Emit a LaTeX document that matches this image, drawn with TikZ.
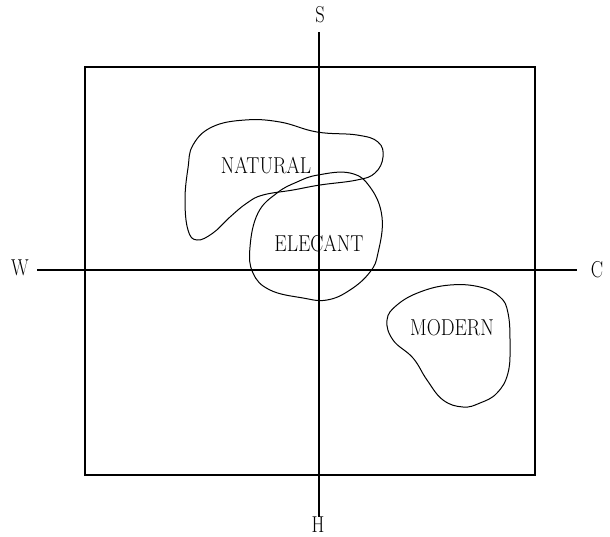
\documentclass[tikz,border=0pt]{standalone}
\begin{document}
\begin{tikzpicture}[x=1pt,y=-1pt,
  lbl/.style={inner sep=0pt,font=\fontsize{23}{23}\selectfont},
  axis/.style={line width=1.5pt},
  frame/.style={line width=1.1pt},
  blob/.style={line width=1pt,smooth cycle,tension=0.7}]
\useasboundingbox (0,0) rectangle (610,536);
% frame
\draw[frame] (85,67) rectangle (535,475);
% axes end points
\coordinate (wl) at (37,270);
\coordinate (cr) at (577,270);
\coordinate (st) at (319,32);
\coordinate (hb) at (319,517);
\draw[axis] (wl) -- (cr);
\draw[axis] (st) -- (hb);
% axis labels
\node[lbl] (S) at (320,15) {\scalebox{0.8}[1]{S}};
\node[lbl] (W) at (20,268) {\scalebox{0.8}[1]{W}};
\node[lbl] (C) at (597,270) {\scalebox{0.8}[1]{C}};
\node[lbl] (H) at (318,525) {\scalebox{0.8}[1]{H}};
% NATURAL blob
\draw[blob] plot coordinates {(193,145) (212,127) (245,120) (280,122) (317,132) (357,135) (378,142) (383,157) (375,173) (357,180) (320,185) (293,190) (263,195) (247,203) (230,217) (213,233) (197,240) (188,230) (185,200) (188,168)};
% ELECANT blob
\draw[blob] plot coordinates {(318,175) (350,173) (370,187) (382,217) (378,253) (370,272) (350,290) (327,300) (303,298) (270,290) (253,273) (250,247) (258,213) (277,193) (297,182)};
% MODERN blob
\draw[blob] plot coordinates {(387,320) (397,305) (420,292) (450,285) (480,287) (500,297) (508,313) (510,343) (508,373) (497,393) (480,403) (463,407) (443,400) (427,380) (413,358) (393,340)};
% labels
\node[lbl] (nat) at (266,166) {\scalebox{0.85}[1]{NATURAL}};
\node[lbl] (ele) at (319,244) {\scalebox{0.85}[1]{ELECANT}};
\node[lbl] (mod) at (452,328) {\scalebox{0.85}[1]{MODERN}};
\end{tikzpicture}
\end{document}
